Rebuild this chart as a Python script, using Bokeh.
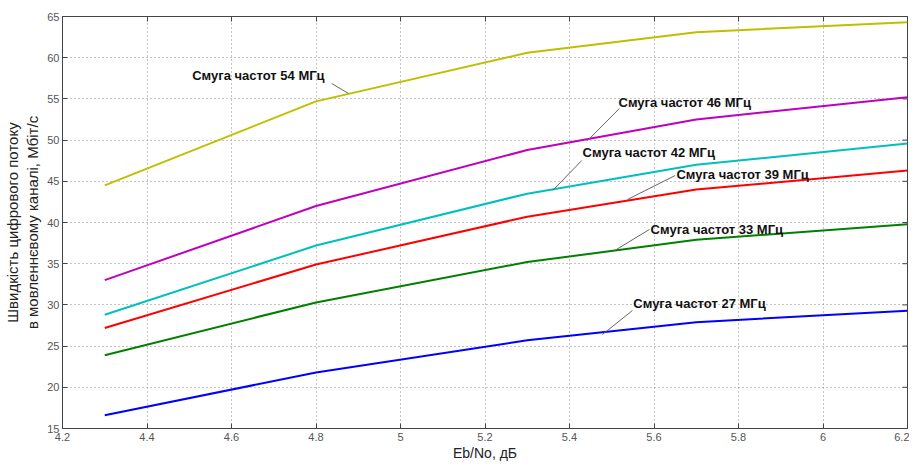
import math
from bokeh.plotting import figure
from bokeh.models import (LinearAxis, Range1d, FixedTicker, CustomJSTickFormatter,
                          ColumnDataSource, CustomLabelingPolicy)
from bokeh.core.properties import value
from bokeh.embed import file_html
from bokeh.resources import INLINE

# ---- data ----
ebno = [4.3, 4.8, 5.3, 5.7, 6.2]
rate_27 = [16.6, 21.8, 25.7, 27.9, 29.3]
rate_33 = [23.9, 30.3, 35.2, 37.9, 39.8]
rate_39 = [27.2, 34.9, 40.7, 44.0, 46.3]
rate_42 = [28.8, 37.2, 43.5, 47.0, 49.6]
rate_46 = [33.0, 42.0, 48.8, 52.5, 55.2]
rate_54 = [44.5, 54.7, 60.6, 63.1, 64.3]

series_names = ["Смуга частот 27 МГц", "Смуга частот 33 МГц", "Смуга частот 39 МГц",
                "Смуга частот 42 МГц", "Смуга частот 46 МГц", "Смуга частот 54 МГц"]
series_values = [rate_27, rate_33, rate_39, rate_42, rate_46, rate_54]
series_colors = ["#0000ff", "#008000", "#ff0000", "#00bfbf", "#bf00bf", "#bfbf00"]

# annotation anchors (text left/middle) and leader lines
label_x = [5.551, 5.592, 5.653, 5.431, 5.516, 4.507]
label_y = [30.17, 39.15, 45.8, 48.5, 54.56, 57.8]
leader_x0 = [5.549, 5.589, 5.650, 5.429, 5.518, 4.837]
leader_y0 = [29.32, 39.15, 45.70, 47.52, 53.83, 56.87]
leader_x1 = [5.478, 5.507, 5.537, 5.360, 5.443, 4.877]
leader_y1 = [26.41, 36.60, 42.79, 43.88, 49.95, 55.66]

x_ticks = [4.2, 4.4, 4.6, 4.8, 5.0, 5.2, 5.4, 5.6, 5.8, 6.0, 6.2]
y_ticks = [15, 20, 25, 30, 35, 40, 45, 50, 55, 60, 65]
x_min, x_max = 4.2, 6.2
y_min, y_max = 15, 65

p = figure(width=909, height=463, output_backend="svg", toolbar_location=None,
           x_range=Range1d(x_min, x_max), y_range=Range1d(y_min, y_max),
           min_border_left=55, min_border_top=16, min_border_right=2, min_border_bottom=20)
p.background_fill_color = "white"
p.border_fill_color = "white"
p.outline_line_color = "#444444"
p.outline_line_width = 1

fmt = CustomJSTickFormatter(code="return (Math.round(tick*10)/10).toString();")

for ax in (p.xaxis[0], p.yaxis[0]):
    ax.major_tick_in = 5
    ax.major_tick_out = 0
    ax.minor_tick_in = 0
    ax.minor_tick_out = 0
    ax.axis_line_color = "#444444"
    ax.major_tick_line_color = "#444444"
    ax.major_label_text_font = "Liberation Sans"
    ax.major_label_text_font_size = "11px"
    ax.major_label_text_color = "#555555"
    ax.axis_label_text_font = "Liberation Sans"
    ax.axis_label_text_font_style = "normal"
    ax.axis_label_text_color = "#222222"
    ax.formatter = fmt

p.xaxis[0].ticker = FixedTicker(ticks=x_ticks)
p.yaxis[0].ticker = FixedTicker(ticks=y_ticks)
p.xaxis[0].axis_label = "Eb/No, дБ"
p.xaxis[0].axis_label_text_font_size = "14px"
p.xaxis[0].major_label_standoff = 4
p.xaxis[0].axis_label_standoff = 1
p.yaxis[0].axis_label = "Швидкість цифрового потоку\nв мовленнєвому каналі, Мбіт/с"
p.yaxis[0].axis_label_text_font_size = "15px"
p.yaxis[0].major_label_standoff = 3
p.yaxis[0].axis_label_standoff = 3

hide_all = CustomLabelingPolicy(code="""
for (let i = 0; i < indices.size; i++) { indices.unset(i) }
return indices
""")

# mirrored tick marks on top (no labels)
ax_top = LinearAxis(ticker=FixedTicker(ticks=x_ticks), major_label_policy=hide_all,
                    major_label_text_font_size="1px",
                    major_tick_in=5, major_tick_out=0, minor_tick_in=0, minor_tick_out=0,
                    major_label_standoff=0, axis_line_color="#444444",
                    major_tick_line_color="#444444")
p.add_layout(ax_top, "above")

p.xgrid.ticker = FixedTicker(ticks=x_ticks)
p.ygrid.ticker = FixedTicker(ticks=y_ticks)
for g in (p.xgrid[0], p.ygrid[0]):
    g.grid_line_color = "#888888"
    g.grid_line_dash = "1 3"
    g.grid_line_width = 1

# mirrored tick marks on the right edge (5 px inward)
p.ray(x=[x_max] * len(y_ticks), y=y_ticks, length=5, length_units="screen",
      angle=math.pi, line_color="#444444", line_width=1)

for vals, col in zip(series_values, series_colors):
    p.line(ebno, vals, line_color=col, line_width=2)

p.segment(x0=leader_x0, y0=leader_y0, x1=leader_x1, y1=leader_y1,
          line_color="#666666", line_width=1)

src = ColumnDataSource(dict(x=label_x, y=label_y, t=series_names))
p.text(x="x", y="y", text="t", source=src, text_align="left", text_baseline="middle",
       text_font=value("Liberation Sans"), text_font_size="13px", text_font_style="bold",
       text_color="#111111")

open("out.html", "w").write(file_html(p, INLINE))
